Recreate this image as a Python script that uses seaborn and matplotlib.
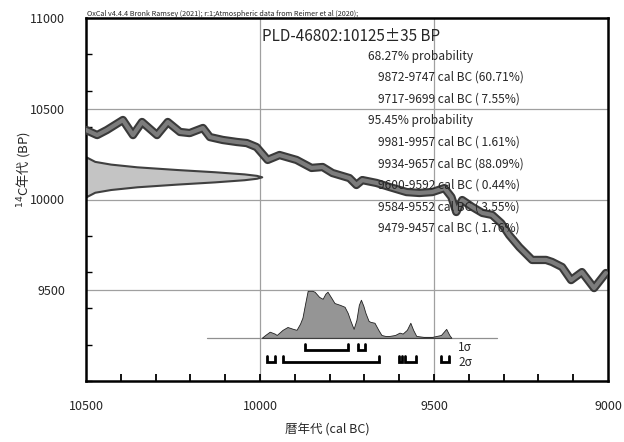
import matplotlib
matplotlib.use('Agg')
import matplotlib.pyplot as plt
from matplotlib.ticker import MultipleLocator
import numpy as np
import pandas as pd
import seaborn as sns

# measurement
lab_code = "PLD-46802"
c14_age = 10125
c14_err = 35

# calibration curve (cal BC, 14C BP)
curve_cal = [10500, 10468, 10440, 10394, 10365, 10339, 10296, 10265, 10230, 10202,
             10164, 10144, 10107, 10067, 10038, 10010, 9978, 9944, 9895, 9852,
             9820, 9792, 9743, 9723, 9706, 9665, 9628, 9579, 9542, 9505,
             9470, 9450, 9436, 9419, 9390, 9361, 9333, 9307, 9284, 9255,
             9218, 9178, 9161, 9132, 9106, 9075, 9040, 9006]
curve_bp = [10383, 10355, 10383, 10438, 10355, 10427, 10355, 10427, 10372, 10366,
            10394, 10344, 10328, 10317, 10311, 10289, 10218, 10245, 10218, 10174,
            10179, 10146, 10118, 10080, 10107, 10091, 10069, 10041, 10036, 10041,
            10063, 10014, 9931, 9997, 9959, 9926, 9915, 9870, 9804, 9738,
            9667, 9667, 9656, 9628, 9556, 9600, 9512, 9595]

# radiocarbon date profile (offset from measured age, relative density)
c14_offset = [-110, -100, -85, -70, -55, -40, -28, -16, -8, 0, 8, 16, 28, 40, 55, 70, 85, 100, 110]
c14_density = [0.0, 0.02, 0.05, 0.14, 0.29, 0.52, 0.73, 0.90, 0.97, 1.0,
               0.97, 0.90, 0.73, 0.52, 0.29, 0.14, 0.05, 0.02, 0.0]

# calibrated probability (cal BC, relative %)
post_cal = [9995, 9985, 9972, 9958, 9952, 9935, 9921, 9905, 9895, 9885,
            9878, 9870, 9863, 9850, 9843, 9830, 9820, 9812, 9806, 9795,
            9786, 9770, 9757, 9748, 9740, 9731, 9723, 9716, 9710, 9703,
            9697, 9688, 9683, 9671, 9660, 9651, 9640, 9628, 9612, 9599,
            9590, 9578, 9568, 9560, 9551, 9530, 9505, 9480, 9465, 9456, 9450]
post_prob = [0, 6, 13, 9, 6, 17, 23, 19, 17, 30,
             43, 74, 100, 100, 98, 87, 83, 94, 98, 85,
             74, 70, 66, 53, 36, 19, 38, 70, 81, 68,
             53, 36, 34, 32, 17, 6, 4, 4, 6, 11,
             9, 17, 32, 17, 4, 2, 2, 6, 19, 6, 0]

ranges_1s = [(9872, 9747, 60.71), (9717, 9699, 7.55)]
ranges_2s = [(9981, 9957, 1.61), (9934, 9657, 88.09), (9600, 9592, 0.44),
             (9584, 9552, 3.55), (9479, 9457, 1.76)]

sns.set_style("white")
plt.rcParams['font.family'] = ['Noto Sans CJK JP', 'DejaVu Sans']

fig = plt.figure(figsize=(6.24, 4.42), dpi=100)
ax = fig.add_axes([86 / 624, 1 - 381 / 442, 522 / 624, 363 / 442])

grid_kw = dict(color="#a0a0a0", lw=0.9, zorder=0)
for v in [10000, 9500]:
    ax.axvline(v, **grid_kw)
for v in [10500, 10000, 9500]:
    ax.axhline(v, **grid_kw)

# 14C date on the y axis
gy = c14_age + np.array(c14_offset)
gx = 10500 - np.array(c14_density) * 505
ax.fill_betweenx(gy, 10500, gx, facecolor="#c4c4c4", edgecolor="#404040", lw=1.5, zorder=2)

# calibration curve
curve = pd.DataFrame({"cal": curve_cal, "bp": curve_bp})
sns.lineplot(data=curve, x="cal", y="bp", sort=False, estimator=None, ax=ax,
             color="#3a3a3a", linewidth=6, solid_joinstyle="round", zorder=3)
sns.lineplot(data=curve, x="cal", y="bp", sort=False, estimator=None, ax=ax,
             color="#7c7c7c", linewidth=3, solid_joinstyle="round", zorder=4)

# calibrated distribution
base = 9238
ax.plot([10153, 9318], [base, base], color="#909090", lw=0.9, zorder=1)
py = base + np.array(post_prob) / 100 * 259
ax.fill_between(post_cal, base, py, facecolor="#959595", edgecolor="#202020", lw=0.6, zorder=2)

def bracket(lo, hi, top, bot):
    ax.plot([lo, lo, hi, hi], [top, bot, bot, top], color="black", lw=2,
            solid_joinstyle="miter", zorder=5)

for lo, hi, p in ranges_1s:
    bracket(lo, hi, base - 34, base - 67)
for lo, hi, p in ranges_2s:
    bracket(lo, hi, base - 100, base - 133)

ax.text(0.713, 0.091, "1σ", transform=ax.transAxes, fontsize=8.5, va="center")
ax.text(0.713, 0.052, "2σ", transform=ax.transAxes, fontsize=8.5, va="center")

# text block
ax.text(0.337, 0.950, f"{lab_code}:{c14_age}±{c14_err} BP", transform=ax.transAxes,
        fontsize=11, va="center")
lines = [("68.27% probability", 0.540, 0.895)]
ys = [0.837, 0.777]
for (lo, hi, p), yy in zip(ranges_1s, ys):
    lines.append((f"{lo}-{hi} cal BC ({p:5.2f}%)", 0.559, yy))
lines.append(("95.45% probability", 0.540, 0.719))
ys = [0.658, 0.598, 0.540, 0.479, 0.421]
for (lo, hi, p), yy in zip(ranges_2s, ys):
    lines.append((f"{lo}-{hi} cal BC ({p:5.2f}%)", 0.559, yy))
for s, xx, yy in lines:
    ax.text(xx, yy, s, transform=ax.transAxes, fontsize=8.6, va="center", zorder=6)

fig.text(87 / 624, 1 - 14 / 442,
         "OxCal v4.4.4 Bronk Ramsey (2021); r:1;Atmospheric data from Reimer et al (2020);",
         fontsize=5.2, va="center")

ax.set_xlim(10500, 9000)
ax.set_ylim(9000, 11000)
ax.set_xticks([10500, 10000, 9500, 9000])
ax.tick_params(axis="x", which="major", length=0, pad=14, labelsize=9)
# inward tick marks every 100 years along the bottom
xt = np.arange(9100, 10500, 100)
ax.vlines(xt, 0, 0.02, transform=ax.get_xaxis_transform(), colors="black",
          linewidth=1.3, zorder=6, clip_on=False)

ax.set_yticks([9500, 10000, 10500, 11000])
ax.yaxis.set_minor_locator(MultipleLocator(200))
ax.tick_params(axis="y", which="major", length=0, pad=15, labelsize=9)
ax.tick_params(axis="y", which="minor", direction="in", length=4, width=1,
               color="black", left=True)

ax.set_xlabel("暦年代 (cal BC)", fontsize=9)
ax.set_ylabel("$^{14}$C年代 (BP)", fontsize=9.5)
ax.xaxis.set_label_coords(0.462, -0.118)
ax.yaxis.set_label_coords(-0.103, 0.581)

for sp in ax.spines.values():
    sp.set_color("black")
    sp.set_linewidth(1.8)

fig.savefig("out.png", dpi=100)
